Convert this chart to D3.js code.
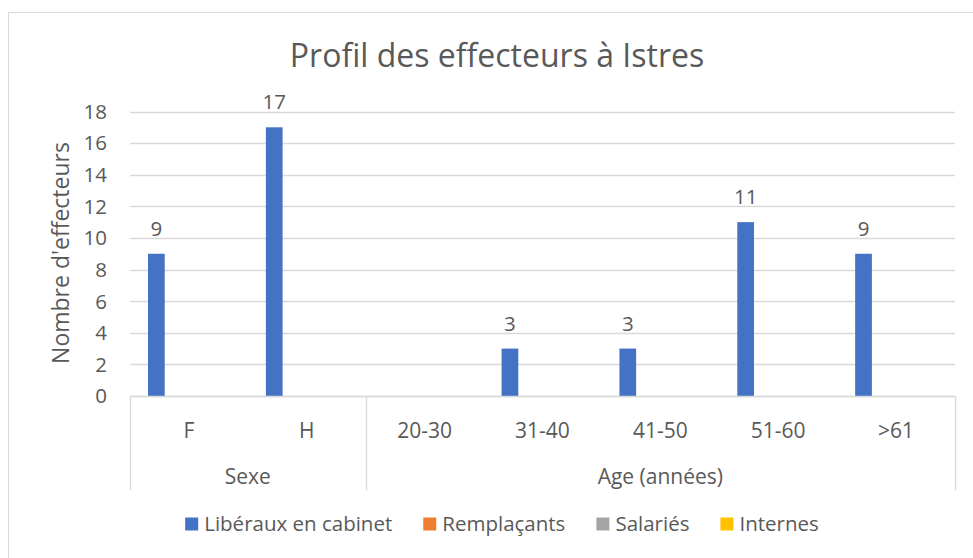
<!DOCTYPE html>
<html>
<head>
<meta charset="utf-8">
<script src="https://d3js.org/d3.v7.min.js"></script>
<style>
  body { margin: 0; background: #fff; }
  text { font-family: "Open Sans", "Noto Sans", sans-serif; fill: #595959; }
</style>
</head>
<body>
<svg width="973" height="558"></svg>
<script>
// chart data
const categories = ["F", "H", "20-30", "31-40", "41-50", "51-60", ">61"];
const groupNames = ["Sexe", "Age (années)"];
const groupSizes = [2, 5];
const seriesNames = ["Libéraux en cabinet", "Remplaçants", "Salariés", "Internes"];
const seriesColors = ["#4472C4", "#ED7D31", "#A5A5A5", "#FFC000"];
const liberaux = [9, 17, null, 3, 3, 11, 9];
const remplacants = [null, null, null, null, null, null, null];
const salaries = [null, null, null, null, null, null, null];
const internes = [null, null, null, null, null, null, null];
const yTicks = [0, 2, 4, 6, 8, 10, 12, 14, 16, 18];

const allSeries = [liberaux, remplacants, salaries, internes];

const svg = d3.select("svg");

// chart frame (only top and left edges visible)
svg.append("rect")
  .attr("x", 8.5).attr("y", 12.5)
  .attr("width", 1000).attr("height", 600)
  .attr("fill", "none")
  .attr("stroke", "#d9d9d9");

// title
svg.append("text")
  .attr("x", 497).attr("y", 67)
  .attr("text-anchor", "middle")
  .style("font-size", "32px")
  .text("Profil des effecteurs à Istres");

var x = d3.scaleBand().domain(categories).range([130, 955]);
var xs = d3.scaleBand().domain(d3.range(seriesNames.length))
  .range([0, x.bandwidth()]).paddingInner(0.23).paddingOuter(0.83);
var y = d3.scaleLinear().domain([0, 18]).range([396, 111.5]);

// gridlines
svg.append("g")
  .selectAll("line")
  .data(yTicks)
  .enter()
  .append("line")
    .attr("x1", 130).attr("x2", 955)
    .attr("y1", function(d){ return Math.round(y(d)) + 0.5; })
    .attr("y2", function(d){ return Math.round(y(d)) + 0.5; })
    .attr("stroke", "#d9d9d9")
    .attr("stroke-width", 1.3);

// y axis labels
svg.append("g")
  .selectAll("text")
  .data(yTicks)
  .enter()
  .append("text")
    .attr("x", 107)
    .attr("y", function(d){ return y(d); })
    .attr("dy", "0.36em")
    .attr("text-anchor", "end")
    .style("font-size", "20.5px")
    .text(function(d){ return d; });

// y axis title
svg.append("text")
  .attr("transform", "translate(69,253) rotate(-90)")
  .attr("text-anchor", "middle")
  .style("font-size", "23px")
  .text("Nombre d'effecteurs");

// bars and labels
allSeries.forEach(function(vals, s) {
  var pts = categories.map(function(c, i){ return {cat: c, v: vals[i]}; })
    .filter(function(d){ return d.v != null; });
  svg.append("g")
    .selectAll("rect")
    .data(pts)
    .enter()
    .append("rect")
      .attr("x", function(d){ return x(d.cat) + xs(s); })
      .attr("width", xs.bandwidth())
      .attr("y", function(d){ return y(d.v); })
      .attr("height", function(d){ return y(0) - y(d.v); })
      .attr("fill", seriesColors[s]);
  svg.append("g")
    .selectAll("text")
    .data(pts)
    .enter()
    .append("text")
      .attr("x", function(d){ return x(d.cat) + xs(s) + xs.bandwidth() / 2; })
      .attr("y", function(d){ return y(d.v) - 18; })
      .attr("text-anchor", "middle")
      .style("font-size", "20.5px")
      .text(function(d){ return d.v; });
});

// category axis (two levels)
svg.append("line")
  .attr("x1", 130).attr("x2", 955)
  .attr("y1", 396.5).attr("y2", 396.5)
  .attr("stroke", "#d9d9d9").attr("stroke-width", 1.3);

svg.append("g")
  .selectAll("text")
  .data(categories)
  .enter()
  .append("text")
    .attr("x", function(d){ return x(d) + x.bandwidth() / 2; })
    .attr("y", 430)
    .attr("dy", "0.36em")
    .attr("text-anchor", "middle")
    .style("font-size", "21px")
    .text(function(d){ return d; });

var groups = [];
var start = 0;
groupNames.forEach(function(g, i) {
  groups.push({name: g, first: categories[start], last: categories[start + groupSizes[i] - 1]});
  start += groupSizes[i];
});

var sepX = [x(categories[0])].concat(groups.map(function(g){ return x(g.last) + x.bandwidth(); }));
svg.append("g")
  .selectAll("line")
  .data(sepX)
  .enter()
  .append("line")
    .attr("x1", function(d){ return Math.round(d) + 0.5; })
    .attr("x2", function(d){ return Math.round(d) + 0.5; })
    .attr("y1", 396).attr("y2", 490)
    .attr("stroke", "#d9d9d9").attr("stroke-width", 1.3);

svg.append("g")
  .selectAll("text")
  .data(groups)
  .enter()
  .append("text")
    .attr("x", function(d){ return (x(d.first) + x(d.last) + x.bandwidth()) / 2; })
    .attr("y", 476.5)
    .attr("dy", "0.36em")
    .attr("text-anchor", "middle")
    .style("font-size", "21px")
    .text(function(d){ return d.name; });

// legend
var legend = svg.append("g");
var lx = 0;
seriesNames.forEach(function(name, i) {
  var item = legend.append("g").attr("transform", "translate(" + lx + ",0)");
  item.append("rect")
    .attr("x", 0).attr("y", -6.5)
    .attr("width", 13).attr("height", 13)
    .attr("fill", seriesColors[i]);
  var t = item.append("text")
    .attr("x", 19).attr("y", 0)
    .attr("dy", "0.36em")
    .style("font-size", "20.5px")
    .text(name);
  lx += 19 + t.node().getComputedTextLength() + 31;
});
lx -= 31;
legend.attr("transform", "translate(" + (502 - lx / 2) + ",524)");
</script>
</body>
</html>
